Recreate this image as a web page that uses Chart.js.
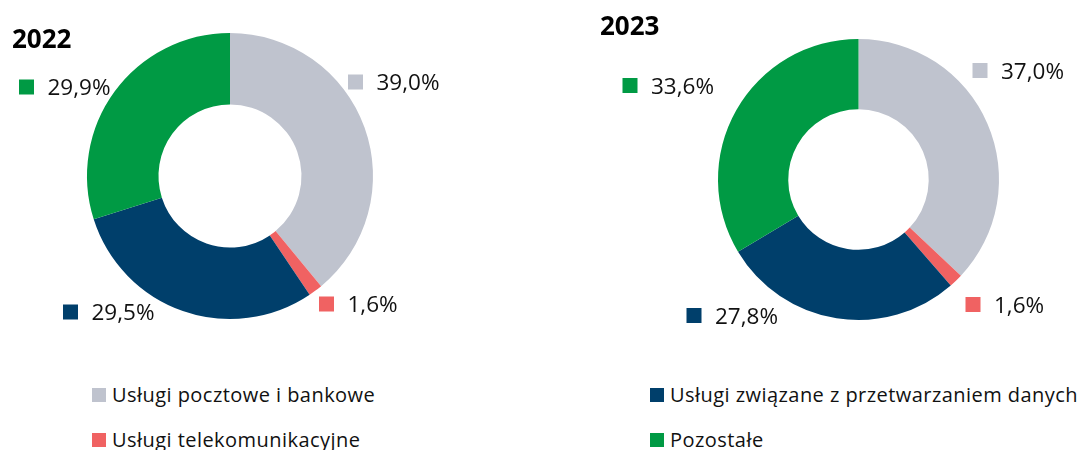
<!DOCTYPE html>
<html>
<head>
<meta charset="utf-8">
<script src="https://cdn.jsdelivr.net/npm/chart.js@4/dist/chart.umd.min.js"></script>
<style>
  body { margin: 0; background: #fff; width: 1080px; height: 450px; overflow: hidden; position: relative; font-family: "Open Sans", sans-serif; }
  canvas { position: absolute; top: 0; }
  #c1 { left: 0; }
  #c2 { left: 540px; }
  .lg { position: absolute; display: flex; align-items: flex-start; font-size: 20px; line-height: 20px; letter-spacing: 0.45px; color: #111; white-space: nowrap; }
  .lg i { display: inline-block; width: 14px; height: 14px; margin: 3px 6px 0 0; }
</style>
</head>
<body>
<canvas id="c1" width="540" height="370"></canvas>
<canvas id="c2" width="540" height="370"></canvas>
<div id="legend"></div>
<script>
// categories
const categories = [
  "Usługi pocztowe i bankowe",
  "Usługi telekomunikacyjne",
  "Usługi związane z przetwarzaniem danych",
  "Pozostałe"
];
const colors = ["#BFC3CE", "#F06262", "#003F6B", "#009A44"];

// shares, %
const years = ["2022", "2023"];
const values2022 = [39.0, 1.6, 29.5, 29.9];
const values2023 = [37.0, 1.6, 27.8, 33.6];

// label placement (offset of the square from the donut centre)
const labelPos = {
  "2022": [[118, -94], [89, 128], [-167, 136], [-211, -89]],
  "2023": [[114, -109], [107, 125], [-172, 136], [-236, -94]]
};

const fmt = (v) => v.toFixed(1).replace(".", ",") + "%";

//draws year title and percentage labels
const labelsPlugin = {
  id: "pctLabels",
  afterDatasetsDraw(chart, args, opts) {
    const ctx = chart.ctx;
    const meta = chart.getDatasetMeta(0);
    const data = chart.data.datasets[0].data;
    ctx.save();
    ctx.fillStyle = "#000";
    ctx.font = "bold 26px 'Open Sans'";
    ctx.textBaseline = "alphabetic";
    ctx.fillText(opts.year, opts.titleX, opts.titleY);
    ctx.font = "22.5px 'Open Sans'";
    meta.data.forEach((arc, i) => {
      const p = labelPos[opts.year][i];
      const x = arc.x + p[0];
      const y = arc.y + p[1];
      ctx.fillStyle = colors[i];
      ctx.fillRect(x, y - 7.5, 15, 15);
      ctx.fillStyle = "#111";
      ctx.fillText(fmt(data[i]), x + 28.5, y + 8);
    });
    ctx.restore();
  }
};

function makeDonut(id, year, values, padding, titleX, titleY) {
  return new Chart(document.getElementById(id).getContext("2d"), {
    type: "doughnut",
    data: {
      labels: categories,
      datasets: [{
        data: values,
        backgroundColor: colors,
        borderWidth: 0,
        hoverOffset: 0
      }]
    },
    options: {
      responsive: false,
      animation: false,
      cutout: "50%",
      layout: { padding: padding },
      plugins: {
        legend: { display: false },
        tooltip: { enabled: false },
        pctLabels: { year: year, titleX: titleX, titleY: titleY }
      }
    },
    plugins: [labelsPlugin]
  });
}

makeDonut("c1", years[0], values2022, { left: 87, right: 167, top: 33, bottom: 51 }, 12, 48);
makeDonut("c2", years[1], values2023, { left: 178, right: 81, top: 39, bottom: 50 }, 60, 35);

//legend in two columns
const legendPos = [[92, 385], [92, 430], [650, 385], [650, 430]];
const legend = document.getElementById("legend");
categories.forEach((name, i) => {
  const d = document.createElement("div");
  d.className = "lg";
  d.style.left = legendPos[i][0] + "px";
  d.style.top = legendPos[i][1] + "px";
  d.innerHTML = '<i style="background:' + colors[i] + '"></i><span></span>';
  d.querySelector("span").textContent = name;
  legend.appendChild(d);
});
</script>
</body>
</html>
